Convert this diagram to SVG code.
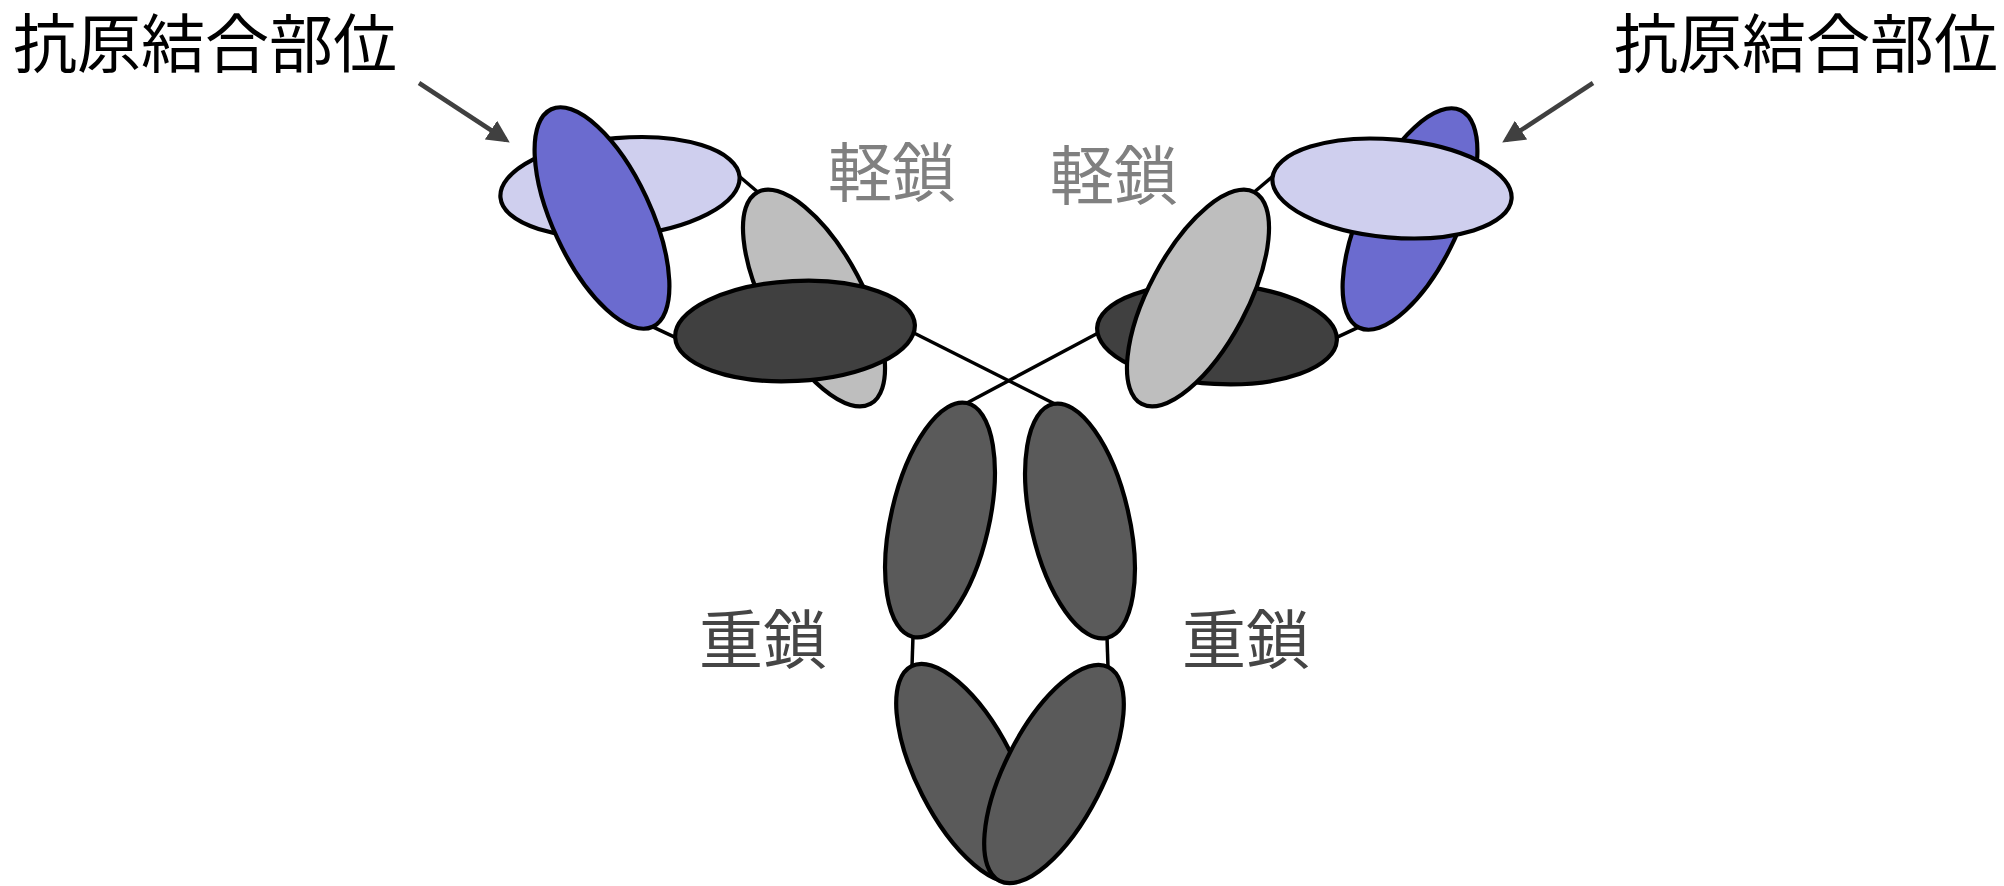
<svg xmlns="http://www.w3.org/2000/svg" width="2004" height="886" viewBox="0 0 2004 886">
  <style>
    .dom { stroke: #000; stroke-width: 4.2; }
    .vl { fill: #CFCFEE; }
    .vh { fill: #6B6BCF; }
    .cl { fill: #BEBEBE; }
    .ch1 { fill: #404040; }
    .fc { fill: #5A5A5A; }
    .link { stroke: #000; stroke-width: 3.5; fill: none; }
    .pointer { stroke: #404040; stroke-width: 4.5; fill: none; }
    .lbl { font-family: "Noto Sans CJK JP", "Noto Sans CJK SC", sans-serif; font-size: 64px; }
    .site { fill: #000; }
    .light { fill: #808080; }
    .heavy { fill: #454545; }
  </style>
  <defs>
    <marker id="head" viewBox="0 0 10 10" refX="8" refY="5" markerWidth="5" markerHeight="5" orient="auto" markerUnits="strokeWidth">
      <path d="M0,0 L10,5 L0,10 Z" fill="#404040"/>
    </marker>
  </defs>

  <!-- backbone links between domains -->
  <g id="connectors">
    <line class="link" x1="739.5" y1="176.5" x2="757.7" y2="192"/>
    <line class="link" x1="652.7" y1="326.8" x2="675.2" y2="337.3"/>
    <line class="link" x1="912" y1="332" x2="1055" y2="404"/>
    <line class="link" x1="1272.5" y1="176.5" x2="1254.3" y2="192"/>
    <line class="link" x1="1359.3" y1="326.8" x2="1336.8" y2="337.3"/>
    <line class="link" x1="1100" y1="332" x2="965" y2="404"/>
    <line class="link" x1="913" y1="636" x2="912" y2="666"/>
    <line class="link" x1="1107" y1="637" x2="1108" y2="667"/>
    <line class="pointer" x1="419" y1="83" x2="506" y2="140" marker-end="url(#head)"/>
    <line class="pointer" x1="1593" y1="83" x2="1506" y2="140" marker-end="url(#head)"/>
  </g>

  <!-- left Fab arm -->
  <g id="fab-left">
    <ellipse class="dom vl" cx="620" cy="187" rx="120" ry="49" transform="rotate(-5 620 187)"/>
    <ellipse class="dom vh" cx="602" cy="218" rx="49" ry="120" transform="rotate(-25 602 218)"/>
    <ellipse class="dom cl" cx="814" cy="298" rx="49" ry="120" transform="rotate(-28 814 298)"/>
    <ellipse class="dom ch1" cx="795" cy="331" rx="120" ry="50" transform="rotate(-3 795 331)"/>
  </g>

  <!-- right Fab arm -->
  <g id="fab-right">
    <ellipse class="dom vh" cx="1410" cy="219" rx="49" ry="120" transform="rotate(25 1410 219)"/>
    <ellipse class="dom vl" cx="1392" cy="188.5" rx="120" ry="49" transform="rotate(5 1392 188.5)"/>
    <ellipse class="dom ch1" cx="1217" cy="334" rx="120" ry="50" transform="rotate(3 1217 334)"/>
    <ellipse class="dom cl" cx="1198" cy="298" rx="49" ry="120" transform="rotate(28 1198 298)"/>
  </g>

  <!-- Fc stem -->
  <g id="fc-upper-left">
    <ellipse class="dom fc" cx="940" cy="520" rx="49" ry="120" transform="rotate(13 940 520)"/>
  </g>
  <g id="fc-upper-right">
    <ellipse class="dom fc" cx="1080" cy="521" rx="49" ry="120" transform="rotate(-13 1080 521)"/>
  </g>
  <g id="fc-lower-left">
    <ellipse class="dom fc" cx="966" cy="773" rx="49" ry="120" transform="rotate(-27 966 773)"/>
  </g>
  <g id="fc-lower-right">
    <ellipse class="dom fc" cx="1054" cy="774" rx="49" ry="120" transform="rotate(27 1054 774)"/>
  </g>

  <!-- labels -->
  <g id="label-site-left"><text class="lbl site" x="13" y="67">抗原結合部位</text></g>
  <g id="label-site-right"><text class="lbl site" x="1614" y="67">抗原結合部位</text></g>
  <g id="label-light-left"><text class="lbl light" x="828" y="196">軽鎖</text></g>
  <g id="label-light-right"><text class="lbl light" x="1050" y="199">軽鎖</text></g>
  <g id="label-heavy-left"><text class="lbl heavy" x="699" y="663">重鎖</text></g>
  <g id="label-heavy-right"><text class="lbl heavy" x="1182" y="663">重鎖</text></g>
</svg>
